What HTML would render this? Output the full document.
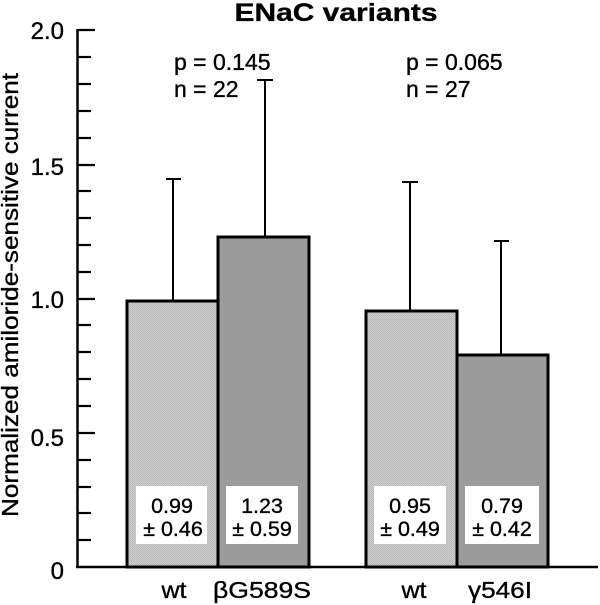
<!DOCTYPE html>
<html>
<head>
<meta charset="utf-8">
<style>
html,body{margin:0;padding:0;background:#fff;}
svg{display:block;}
text{font-family:"Liberation Sans",Arial,Helvetica,sans-serif;fill:#000;stroke:#000;stroke-width:0.35;}
</style>
</head>
<body>
<svg width="600" height="605" viewBox="0 0 600 605" xmlns="http://www.w3.org/2000/svg">
  <defs>
    <pattern id="chk" width="2" height="2" patternUnits="userSpaceOnUse">
      <rect width="2" height="2" fill="#cbcbcb"/>
      <rect width="1" height="1" fill="#bbbbbb"/>
      <rect x="1" y="1" width="1" height="1" fill="#bbbbbb"/>
    </pattern>
  </defs>

  <!-- Title -->
  <text x="336" y="21" font-size="25" font-weight="bold" text-anchor="middle" textLength="203" lengthAdjust="spacingAndGlyphs">ENaC variants</text>

  <!-- Y axis label -->
  <text transform="translate(18,295) rotate(-90)" font-size="23" text-anchor="middle" textLength="444" lengthAdjust="spacingAndGlyphs">Normalized amiloride-sensitive current</text>

  <!-- bars -->
  <rect x="127" y="301" width="91" height="266" fill="url(#chk)" stroke="#000" stroke-width="3"/>
  <rect x="218" y="237" width="91" height="330" fill="#9b9b9b" stroke="#000" stroke-width="3"/>
  <rect x="366" y="311" width="91" height="256" fill="url(#chk)" stroke="#000" stroke-width="3"/>
  <rect x="457" y="355" width="91" height="212" fill="#9b9b9b" stroke="#000" stroke-width="3"/>

  <!-- error bars -->
  <g stroke="#000" stroke-width="2">
    <line x1="173" y1="179" x2="173" y2="301"/>
    <line x1="166" y1="179" x2="181" y2="179"/>
    <line x1="265" y1="80" x2="265" y2="237"/>
    <line x1="257" y1="80" x2="273" y2="80"/>
    <line x1="410" y1="182" x2="410" y2="311"/>
    <line x1="402" y1="182" x2="418" y2="182"/>
    <line x1="501" y1="241" x2="501" y2="355"/>
    <line x1="494" y1="241" x2="509" y2="241"/>
  </g>

  <!-- value boxes -->
  <rect x="136" y="486" width="71" height="58" fill="#fff"/>
  <rect x="226" y="486" width="72" height="58" fill="#fff"/>
  <rect x="374" y="486" width="72" height="58" fill="#fff"/>
  <rect x="465" y="486" width="74" height="58" fill="#fff"/>
  <g font-size="21.5" text-anchor="middle">
    <text x="172" y="513">0.99</text>
    <text x="173" y="536">± 0.46</text>
    <text x="262" y="513">1.23</text>
    <text x="262" y="536">± 0.59</text>
    <text x="410" y="513">0.95</text>
    <text x="410" y="536">± 0.49</text>
    <text x="502" y="513">0.79</text>
    <text x="502" y="536">± 0.42</text>
  </g>

  <!-- axes -->
  <g stroke="#000">
    <line x1="77.5" y1="29" x2="77.5" y2="568" stroke-width="2.5"/>
    <line x1="76" y1="567" x2="598" y2="567" stroke-width="2.5"/>
    <g stroke-width="2.2">
      <line x1="77" y1="30" x2="95" y2="30"/>
      <line x1="77" y1="57" x2="91" y2="57"/>
      <line x1="77" y1="84" x2="91" y2="84"/>
      <line x1="77" y1="111" x2="91" y2="111"/>
      <line x1="77" y1="138" x2="91" y2="138"/>
      <line x1="77" y1="165" x2="95" y2="165"/>
      <line x1="77" y1="191" x2="91" y2="191"/>
      <line x1="77" y1="218" x2="91" y2="218"/>
      <line x1="77" y1="245" x2="91" y2="245"/>
      <line x1="77" y1="272" x2="91" y2="272"/>
      <line x1="77" y1="299" x2="95" y2="299"/>
      <line x1="77" y1="325" x2="91" y2="325"/>
      <line x1="77" y1="352" x2="91" y2="352"/>
      <line x1="77" y1="379" x2="91" y2="379"/>
      <line x1="77" y1="406" x2="91" y2="406"/>
      <line x1="77" y1="433" x2="95" y2="433"/>
      <line x1="77" y1="460" x2="91" y2="460"/>
      <line x1="77" y1="487" x2="91" y2="487"/>
      <line x1="77" y1="513" x2="91" y2="513"/>
      <line x1="77" y1="540" x2="91" y2="540"/>
    </g>
  </g>

  <!-- tick labels -->
  <g font-size="24" text-anchor="end">
    <text x="64" y="39">2.0</text>
    <text x="64" y="175">1.5</text>
    <text x="64" y="308">1.0</text>
    <text x="64" y="446">0.5</text>
    <text x="64" y="579">0</text>
  </g>

  <!-- p / n annotations -->
  <g font-size="23">
    <text x="174" y="70">p = 0.145</text>
    <text x="174" y="97">n = 22</text>
    <text x="406" y="70">p = 0.065</text>
    <text x="406" y="97">n = 27</text>
  </g>

  <!-- x labels -->
  <g font-size="23" text-anchor="middle">
    <text x="174" y="598" textLength="25" lengthAdjust="spacingAndGlyphs">wt</text>
    <text x="262" y="598" textLength="98" lengthAdjust="spacingAndGlyphs">βG589S</text>
    <text x="414" y="598" textLength="25" lengthAdjust="spacingAndGlyphs">wt</text>
    <text x="500" y="598" textLength="64" lengthAdjust="spacingAndGlyphs">γ546I</text>
  </g>
</svg>
</body>
</html>
